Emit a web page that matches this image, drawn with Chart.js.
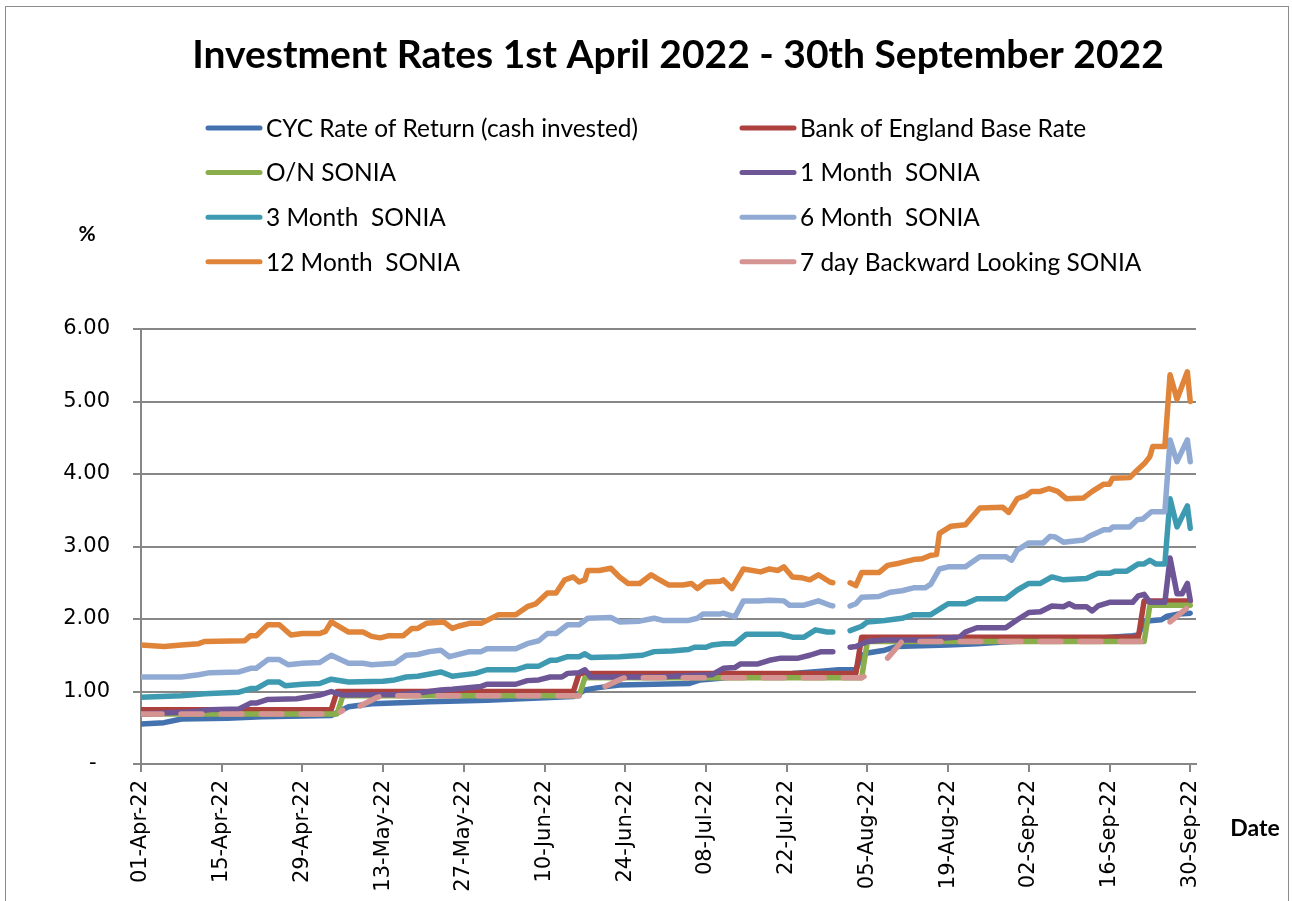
<!DOCTYPE html>
<html>
<head>
<meta charset="utf-8">
<title>Investment Rates</title>
<script src="https://cdn.jsdelivr.net/npm/chart.js@4"></script>
<style>
  body { margin: 0; background: #fff; }
  #wrap { width: 1292px; height: 901px; position: relative; }
</style>
</head>
<body>
<div id="wrap"><canvas id="rateChart"></canvas></div>
<script>
// x = days after 01-Apr-22, y = rate %
var chartTitle = "Investment Rates 1st April 2022 - 30th September 2022";
var tickLabels = ["01-Apr-22", "15-Apr-22", "29-Apr-22", "13-May-22", "27-May-22", "10-Jun-22", "24-Jun-22",
    "08-Jul-22", "22-Jul-22", "05-Aug-22", "19-Aug-22", "02-Sep-22", "16-Sep-22", "30-Sep-22"];
var seriesNames = ["CYC Rate of Return (cash invested)", "Bank of England Base Rate", "O/N SONIA", "1 Month  SONIA",
    "3 Month  SONIA", "6 Month  SONIA", "12 Month  SONIA", "7 day Backward Looking SONIA"];
var seriesColors = ["#4472ae", "#ad413e", "#8aae4c", "#6d5596", "#3e9ab0", "#90aad3", "#e0843a", "#d59391"];

var cycReturn = [[0,0.55],[4,0.57],[7,0.62],[15,0.63],[21,0.65],[33,0.67],[36,0.79],[40,0.83],[50,0.86],[60,0.88],
    [66,0.90],[75,0.93],[77,1.02],[79,1.05],[83,1.09],[95,1.11],[97,1.16],[100,1.18],[105,1.22],[113,1.25],[118,1.28],
    [121,1.30],[124,1.30],[125,1.50],[126,1.53],[129,1.57],[131,1.62],[140,1.64],[145,1.66],[155,1.71],[165,1.73],
    [172,1.77],[173,1.78],[174,1.97],[177,1.99],[178,2.04],[180,2.07],[182,2.08]];
var boeRate = [[0,0.75],[33,0.75],[34,1.00],[75,1.00],[76,1.25],[124,1.25],[125,1.75],[173,1.75],[174,2.25],[182,2.25]];
var onSonia = [[0,0.69],[34,0.69],[35,0.94],[76,0.94],[77,1.19],[125,1.19],[126,1.69],[174,1.69],[175,2.19],[182,2.19]];
var oneMonth = [[0,0.69],[9,0.72],[12,0.75],[17,0.76],[19,0.84],[20,0.84],[22,0.89],[27,0.90],[31,0.95],[33,1.00],
    [35,0.95],[45,0.96],[48,0.98],[52,1.02],[54,1.03],[59,1.07],[60,1.10],[65,1.10],[67,1.15],[69,1.16],[71,1.20],
    [73,1.20],[74,1.25],[76,1.26],[77,1.30],[78,1.20],[89,1.20],[99,1.23],[101,1.32],[103,1.33],[104,1.38],[107,1.38],
    [109,1.43],[111,1.46],[114,1.46],[116,1.50],[118,1.55],[120,1.55],[121.5,null],[123,1.61],[124,1.62],[126,1.69],
    [129,1.71],[137,1.71],[138,1.73],[142,1.75],[143,1.82],[145,1.88],[150,1.88],[152,1.99],[154,2.09],[156,2.10],
    [158,2.18],[160,2.17],[161,2.21],[162,2.17],[164,2.17],[165,2.11],[166,2.18],[168,2.23],[172,2.23],[173,2.32],
    [174,2.34],[175,2.23],[177.6,2.23],[178.5,2.84],[179.7,2.35],[180.6,2.35],[181.5,2.49],[182,2.26]];
var threeMonth = [[0,0.92],[7,0.94],[11,0.97],[17,0.99],[19,1.04],[20,1.04],[22,1.13],[24,1.13],[25,1.08],[28,1.10],
    [31,1.11],[33,1.17],[36,1.13],[42,1.14],[44,1.16],[46,1.20],[48,1.21],[52,1.27],[54,1.21],[58,1.25],[60,1.30],
    [65,1.30],[67,1.35],[69,1.35],[71,1.43],[72,1.43],[74,1.48],[76,1.48],[77,1.52],[78,1.47],[83,1.48],[87,1.50],
    [89,1.55],[92,1.56],[95,1.58],[96,1.61],[98,1.61],[99,1.64],[101,1.66],[103,1.66],[105,1.79],[111,1.79],[113,1.75],
    [115,1.75],[117,1.85],[119,1.82],[120,1.82],[121.5,null],[123,1.84],[125,1.90],[126,1.96],[129,1.98],[132,2.01],
    [134,2.06],[137,2.06],[139,2.16],[140,2.21],[143,2.21],[145,2.28],[150,2.28],[152,2.40],[154,2.49],[156,2.49],
    [158,2.58],[160,2.54],[164,2.56],[166,2.63],[168,2.63],[169,2.66],[171,2.66],[173,2.76],[174,2.76],[175,2.81],
    [176,2.76],[177.6,2.76],[178.5,3.66],[179.7,3.27],[181.5,3.56],[182,3.25]];
var sixMonth = [[0,1.20],[7,1.20],[10,1.23],[12,1.26],[17,1.27],[19,1.32],[20,1.32],[22,1.44],[24,1.44],[25.5,1.37],
    [28,1.39],[31,1.40],[33,1.50],[36,1.39],[38.5,1.39],[40,1.37],[42,1.38],[44,1.39],[46,1.50],[48,1.51],[50,1.55],
    [52,1.57],[53.5,1.48],[57,1.55],[59,1.55],[60,1.59],[65,1.59],[67,1.66],[69,1.70],[70.5,1.80],[72,1.80],[74,1.92],
    [76,1.92],[77.5,2.01],[81.5,2.02],[83,1.96],[86.5,1.97],[89,2.01],[90.5,1.98],[95,1.98],[96.5,2.01],[97.5,2.07],
    [100.5,2.07],[101,2.08],[103,2.03],[104.5,2.25],[107.5,2.25],[109,2.26],[111.5,2.25],[112.5,2.19],[115,2.19],
    [117.5,2.25],[119.5,2.19],[120,2.18],[121.5,null],[123,2.18],[124,2.21],[125,2.30],[128,2.31],[130,2.37],[132,2.39],
    [134,2.43],[136,2.43],[137,2.48],[138.5,2.69],[140,2.72],[143,2.72],[145.5,2.86],[150,2.86],[151,2.81],[152,2.95],
    [154,3.05],[156.5,3.05],[157.7,3.14],[158.6,3.13],[160,3.06],[163.5,3.09],[164.5,3.14],[167,3.23],[168,3.23],
    [168.6,3.27],[171.5,3.27],[172.8,3.37],[173.8,3.38],[175.3,3.48],[177.6,3.48],[178.5,4.47],[179.7,4.17],
    [181.5,4.47],[182,4.17]];
var twelveMonth = [[0,1.64],[4,1.62],[7,1.64],[10,1.66],[11,1.69],[18,1.70],[19,1.77],[20,1.77],[22,1.92],[24,1.92],
    [26,1.78],[28,1.80],[31,1.80],[32,1.83],[33,1.96],[36,1.82],[38.5,1.82],[40,1.76],[41.5,1.74],[43,1.77],[45.5,1.77],
    [47,1.87],[48,1.87],[49.5,1.94],[52.5,1.96],[54,1.87],[55,1.90],[57,1.94],[59,1.94],[62,2.06],[65,2.06],[67,2.17],
    [68.5,2.21],[70.5,2.36],[72,2.36],[73.5,2.54],[75,2.58],[76,2.51],[77,2.54],[77.5,2.67],[79.5,2.67],[81.5,2.70],
    [83,2.58],[84.5,2.49],[86.5,2.49],[88.5,2.61],[89.5,2.56],[91.5,2.47],[94,2.47],[95.5,2.49],[96.5,2.42],[98,2.51],
    [100.5,2.52],[101,2.54],[102.5,2.42],[104.5,2.69],[107.5,2.65],[109,2.69],[110.5,2.67],[111.5,2.72],[113,2.58],
    [114.5,2.57],[116,2.54],[117.5,2.61],[119.5,2.51],[120,2.50],[121.5,null],[123,2.50],[124,2.46],[125,2.64],
    [128,2.64],[129.5,2.74],[131.5,2.77],[134,2.82],[135.5,2.83],[137,2.88],[138,2.89],[138.5,3.18],[140.5,3.28],
    [143,3.30],[145.5,3.53],[149.5,3.54],[150.5,3.47],[152,3.66],[153.5,3.70],[154.5,3.76],[156,3.76],[157.5,3.80],
    [159,3.76],[160.5,3.66],[163.5,3.67],[165,3.76],[167,3.86],[168,3.86],[168.5,3.94],[171.5,3.95],[172.5,4.03],
    [174,4.14],[175,4.24],[175.5,4.38],[177.6,4.38],[178.5,5.37],[179.7,5.03],[181.5,5.41],[182,5.00]];
var sevenDay = [[0,0.69],[34,0.69],[35,0.74],[36.5,null],[38,0.80],[41,0.92],[42,0.94],[76,0.94],[77,0.99],[78.5,null],
    [80.5,1.07],[83.5,1.18],[84,1.19],[125,1.19],[127,1.27],[128,null],[129.5,1.46],[132,1.69],[174,1.69],[175.5,1.77],
    [176.5,null],[178.5,1.96],[182,2.19]];

var allSeries = [cycReturn, boeRate, onSonia, oneMonth, threeMonth, sixMonth, twelveMonth, sevenDay];

var axisFont = "'DejaVu Sans', Verdana, sans-serif";

// pick a font size so the text spans the wanted width
function fitFont(ctx, text, weight, width) {
    ctx.font = weight + " 20px Lato";
    var size = 20 * width / ctx.measureText(text).width;
    ctx.font = weight + " " + size.toFixed(2) + "px Lato";
}

// title, legend, axis names and the outer frame are drawn by hand (Excel style two column legend)
var decorations = {
    id: "decorations",
    afterDraw: function (chart) {
        var ctx = chart.ctx;
        ctx.save();
        ctx.strokeStyle = "#8c8c8c";
        ctx.lineWidth = 1;
        ctx.strokeRect(5.5, 6.5, 1283, 920);

        ctx.fillStyle = "#000";
        ctx.textAlign = "center";
        ctx.textBaseline = "alphabetic";
        fitFont(ctx, chartTitle, "bold", 972);
        ctx.fillText(chartTitle, 678, 68);

        ctx.textBaseline = "middle";
        ctx.font = "bold 21px Lato";
        ctx.fillText("%", 87, 234);
        ctx.font = "bold 23px Lato";
        ctx.fillText("Date", 1255, 829);

        ctx.textAlign = "left";
        fitFont(ctx, seriesNames[0], "normal", 372);
        ctx.lineCap = "round";
        ctx.lineWidth = 5;
        for (var i = 0; i < seriesNames.length; i++) {
            var x0 = (i % 2) ? 742 : 208;
            var y0 = 128 + Math.floor(i / 2) * 44.6;
            ctx.strokeStyle = seriesColors[i];
            ctx.beginPath();
            ctx.moveTo(x0, y0);
            ctx.lineTo(x0 + 52, y0);
            ctx.stroke();
            ctx.fillText(seriesNames[i], x0 + 58, y0 + 1);
        }
        ctx.restore();
    }
};

var ctx = document.getElementById("rateChart").getContext("2d");
var myChart = new Chart(ctx, {
    type: "line",
    data: {
        datasets: allSeries.map(function (s, i) {
            return {
                label: seriesNames[i],
                data: s.map(function (p) { return { x: p[0], y: p[1] }; }),
                borderColor: seriesColors[i],
                backgroundColor: seriesColors[i],
                borderWidth: 5.5,
                borderCapStyle: "round",
                borderJoinStyle: "round",
                borderDash: i === 7 ? [21, 19] : [],
                pointRadius: 0,
                tension: 0,
                fill: false,
                order: 8 - i
            };
        })
    },
    options: {
        responsive: true,
        maintainAspectRatio: false,
        animation: false,
        layout: { padding: { top: 329, right: 96, bottom: 0, left: 0 } },
        plugins: {
            legend: { display: false },
            title: { display: false },
            tooltip: { enabled: false }
        },
        scales: {
            x: {
                type: "linear",
                min: 0,
                max: 183,
                afterBuildTicks: function (axis) {
                    axis.ticks = tickLabels.map(function (l, i) { return { value: i * 14 }; });
                },
                afterFit: function (axis) { axis.height = 137; },
                ticks: {
                    autoSkip: false,
                    maxRotation: 90,
                    minRotation: 90,
                    padding: 8,
                    color: "#000",
                    font: { family: axisFont, size: 21 },
                    callback: function (v) { return tickLabels[Math.round(v / 14)]; }
                },
                grid: { drawOnChartArea: false, drawTicks: true, tickLength: 8, color: "#878787", lineWidth: 2 },
                border: { display: true, color: "#878787", width: 2 }
            },
            y: {
                min: 0,
                max: 6,
                afterFit: function (axis) { axis.width = 141; },
                ticks: {
                    stepSize: 1,
                    padding: 23,
                    color: "#000",
                    font: { family: axisFont, size: 21 },
                    // Excel accounting style: zero shows as a dash with trailing space
                    callback: function (v) { return v === 0 ? "-  " : v.toFixed(2); }
                },
                grid: { color: "#878787", lineWidth: 2, tickLength: 8 },
                border: { display: true, color: "#878787", width: 2 }
            }
        }
    },
    plugins: [decorations]
});
</script>
</body>
</html>
